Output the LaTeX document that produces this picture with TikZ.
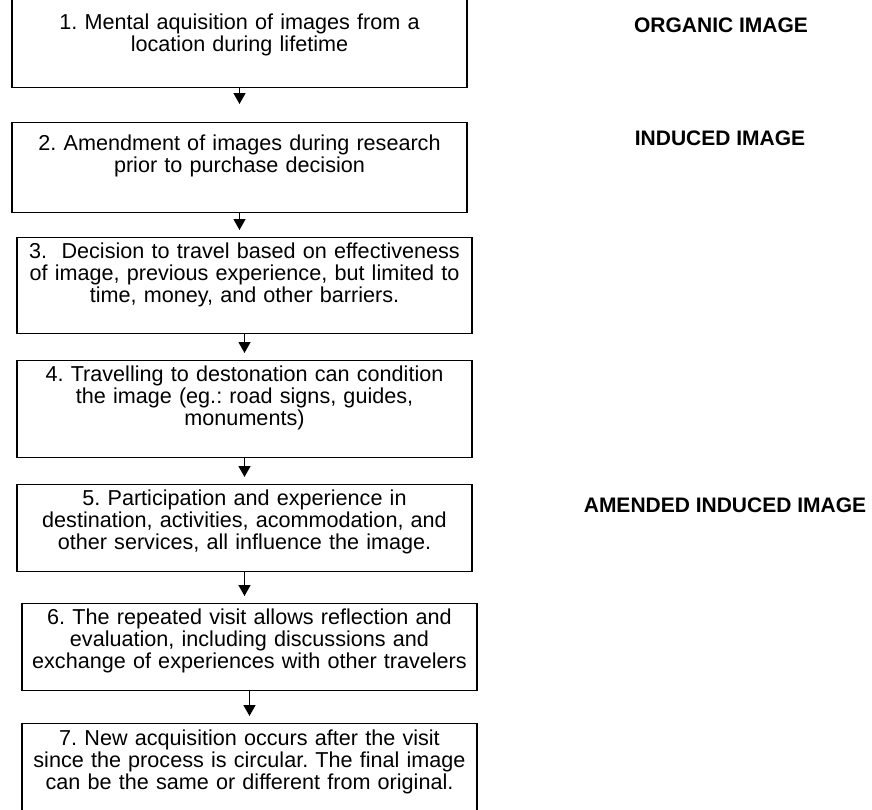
\documentclass[tikz,border=0pt]{standalone}
\usepackage{fontspec}
\setmainfont{Liberation Sans}
\frenchspacing
\usetikzlibrary{arrows.meta}

\begin{document}
\begin{tikzpicture}[
    x=1pt, y=-1pt,
    every node/.style={font=\fontsize{21.6}{22}\selectfont},
    stepbox/.style={draw, line width=1.2pt, anchor=north, align=center,
      text width=455pt, inner xsep=0pt, inner ysep=0pt},
    flowarrow/.style={line width=1.3pt, -{Triangle[width=12pt,length=11pt]},
      shorten >=7pt},
    imglabel/.style={font=\fontsize{21}{23}\selectfont\bfseries},
  ]
    \useasboundingbox (0,0) rectangle (872,809);
    %% Steps of the image formation process
    \node[stepbox, text height=43pt, text depth=58pt] (b1) at (239.5,-14)
      {1. Mental aquisition of images from a\\location during lifetime};
    \node[stepbox, text height=28pt, text depth=62pt] (b2) at (239.5,122)
      {2. Amendment of images during research\\prior to purchase decision};
    \node[stepbox, text height=21pt, text depth=75pt] (b3) at (244.5,237)
      {3.\ \ Decision to travel based on effectiveness\\of image, previous experience, but limited to\\time, money, and other barriers.};
    \node[stepbox, text height=21pt, text depth=76pt] (b4) at (244.5,360)
      {4. Travelling to destonation can condition\\the image (eg.: road signs, guides,\\monuments)};
    \node[stepbox, text height=21pt, text depth=66pt] (b5) at (244.5,484)
      {5. Participation and experience in\\destination, activities, acommodation, and\\other services, all influence the image.};
    \node[stepbox, text height=21pt, text depth=66pt] (b6) at (249.5,603)
      {6. The repeated visit allows reflection and\\evaluation, including discussions and\\exchange of experiences with other travelers};
    \node[stepbox, text height=22pt, text depth=72pt] (b7) at (249.5,723)
      {7. New acquisition occurs after the visit\\since the process is circular. The final image\\can be the same or different from original.};
    %% Arrows between steps
    \draw[flowarrow, shorten >=18pt] (b1.south) -- (b1.south |- b2.north);
    \foreach \a/\b in {b2/b3,b3/b4,b4/b5,b5/b6,b6/b7}
      \draw[flowarrow] (\a.south) -- (\a.south |- \b.north);
    %% Image types
    \node[imglabel] (organic) at (721,25) {ORGANIC IMAGE};
    \node[imglabel] (induced) at (720,138) {INDUCED IMAGE};
    \node[imglabel] (amended) at (725,505) {AMENDED INDUCED IMAGE};
\end{tikzpicture}
\end{document}
